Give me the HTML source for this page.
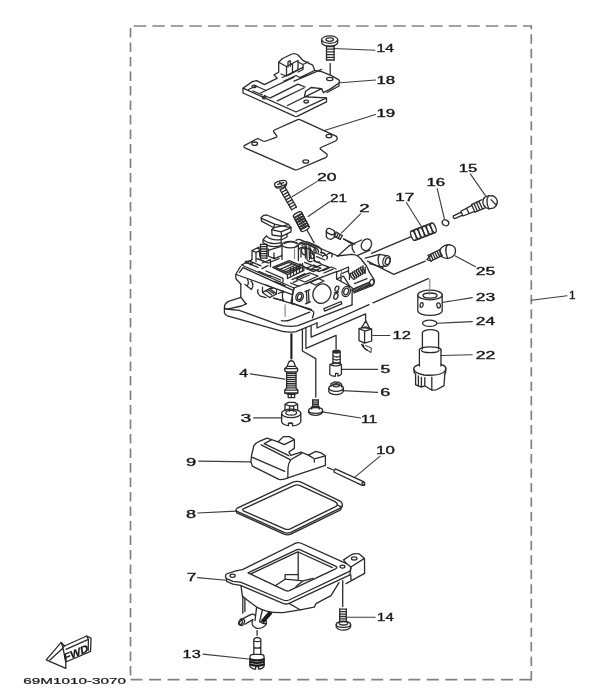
<!DOCTYPE html>
<html><head><meta charset="utf-8"><title>Carburetor</title>
<style>
html,body{margin:0;padding:0;background:#fff;}
body{width:610px;height:697px;overflow:hidden;font-family:"Liberation Sans",sans-serif;}
svg{display:block;}
svg line, svg path, svg ellipse, svg polyline, svg polygon, svg rect{fill:none;stroke:#2c2c2c;stroke-width:1.3;stroke-linecap:round;stroke-linejoin:round;}
svg .w{fill:#fff;}
svg .thk{stroke-width:2.1;stroke:#1c1c1c;}
svg .thn{stroke-width:1;}
svg .lt{stroke:#808080;stroke-width:1.1;}
svg .d{stroke:#828282;stroke-width:1.7;stroke-linecap:butt;}
svg .f{fill:#333;}
svg .ld{stroke:#3c3c3c;stroke-width:1.1;}
svg text{font-family:"Liberation Sans",sans-serif;fill:#161616;stroke:#181818;stroke-width:0.34;}
</style></head><body>
<svg width="610" height="697" viewBox="0 0 610 697">
<defs><filter id="b" x="-2%" y="-2%" width="104%" height="104%"><feGaussianBlur stdDeviation="0.5"/></filter></defs>
<rect x="0" y="0" width="610" height="697" style="fill:#fff;stroke:none"/>
<g filter="url(#b)">
<line x1="133.8" y1="26" x2="531.3" y2="26" class="d" stroke-dasharray="12.4 6.13"/>
<line x1="130.5" y1="28" x2="130.5" y2="676" class="d" stroke-dasharray="9.4 5.1"/>
<line x1="531.3" y1="25.3" x2="531.3" y2="680.4" class="d" stroke-dasharray="9.4 5.07" stroke-dashoffset="5.4"/>
<line x1="130.5" y1="679.7" x2="531.3" y2="679.7" class="d" stroke-dasharray="12 6.52"/>
<text transform="translate(376.57,52.1) scale(1.471,1)" font-size="10.6">14</text>
<text transform="translate(376.47,83.5) scale(1.587,1)" font-size="10.6">18</text>
<text transform="translate(376.47,117.3) scale(1.593,1)" font-size="10.6">19</text>
<text transform="translate(316.97,181.0) scale(1.660,1)" font-size="10.6">20</text>
<text transform="translate(329.99,201.7) scale(1.434,1)" font-size="10.6">21</text>
<text transform="translate(359.32,211.8) scale(1.759,1)" font-size="10.6">2</text>
<text transform="translate(395.25,200.6) scale(1.617,1)" font-size="10.6">17</text>
<text transform="translate(426.46,185.5) scale(1.598,1)" font-size="10.6">16</text>
<text transform="translate(458.79,171.9) scale(1.566,1)" font-size="10.6">15</text>
<text transform="translate(475.77,274.9) scale(1.656,1)" font-size="10.6">25</text>
<text transform="translate(475.77,301.2) scale(1.659,1)" font-size="10.6">23</text>
<text transform="translate(475.78,325.2) scale(1.635,1)" font-size="10.6">24</text>
<text transform="translate(475.77,359.2) scale(1.669,1)" font-size="10.6">22</text>
<text transform="translate(569.05,298.5) scale(1.116,1)" font-size="10.6">1</text>
<text transform="translate(392.49,339.0) scale(1.560,1)" font-size="10.6">12</text>
<text transform="translate(380.55,372.6) scale(1.652,1)" font-size="10.6">5</text>
<text transform="translate(380.33,396.2) scale(1.699,1)" font-size="10.6">6</text>
<text transform="translate(360.96,422.8) scale(1.478,1)" font-size="10.6">11</text>
<text transform="translate(239.18,377.4) scale(1.497,1)" font-size="10.6">4</text>
<text transform="translate(240.41,422.3) scale(1.831,1)" font-size="10.6">3</text>
<text transform="translate(376.07,454.4) scale(1.590,1)" font-size="10.6">10</text>
<text transform="translate(185.99,466.1) scale(1.736,1)" font-size="10.6">9</text>
<text transform="translate(186.07,517.7) scale(1.706,1)" font-size="10.6">8</text>
<text transform="translate(186.68,581.3) scale(1.617,1)" font-size="10.6">7</text>
<text transform="translate(377.12,620.6) scale(1.405,1)" font-size="10.6">14</text>
<text transform="translate(182.61,658.4) scale(1.541,1)" font-size="10.6">13</text>
<text transform="translate(23.3,683.8) scale(1.575,1)" font-size="9.7" style="stroke-width:0.22">69M1010-3070</text>
<line x1="333.5" y1="48.5" x2="375" y2="50.3" class="ld"/>
<line x1="340.5" y1="82.8" x2="375.5" y2="80" class="ld"/>
<line x1="324.5" y1="130.6" x2="375.5" y2="114.4" class="ld"/>
<line x1="316.9" y1="181.6" x2="292.4" y2="196.5" class="ld"/>
<line x1="329.5" y1="201.7" x2="308.1" y2="216.5" class="ld"/>
<line x1="360.5" y1="213.8" x2="341.6" y2="232.9" class="ld"/>
<line x1="406.4" y1="202.5" x2="421.5" y2="226.7" class="ld"/>
<line x1="437.2" y1="188.6" x2="444.3" y2="218.5" class="ld"/>
<line x1="470.3" y1="173.9" x2="485.4" y2="195.6" class="ld"/>
<line x1="455.4" y1="255.9" x2="475.5" y2="266.8" class="ld"/>
<line x1="440" y1="302.8" x2="472.3" y2="297.6" class="ld"/>
<line x1="437" y1="323.3" x2="472.3" y2="321.6" class="ld"/>
<line x1="441" y1="355.5" x2="472.3" y2="354.7" class="ld"/>
<line x1="531.3" y1="300.3" x2="567" y2="295.7" class="ld"/>
<line x1="372.8" y1="335.5" x2="389.9" y2="335.5" class="ld"/>
<line x1="341.4" y1="369.4" x2="377.6" y2="369.4" class="ld"/>
<line x1="342.5" y1="390.6" x2="377.6" y2="392.4" class="ld"/>
<line x1="322.2" y1="411.9" x2="360.7" y2="418" class="ld"/>
<line x1="250.3" y1="373.9" x2="284.9" y2="379.1" class="ld"/>
<line x1="253.6" y1="417.9" x2="282" y2="417.9" class="ld"/>
<line x1="380.1" y1="456.2" x2="355.2" y2="476.9" class="ld"/>
<line x1="198.7" y1="461.1" x2="250.8" y2="461.9" class="ld"/>
<line x1="197.7" y1="513" x2="236.1" y2="511.1" class="ld"/>
<line x1="197.5" y1="577.6" x2="226.1" y2="580.2" class="ld"/>
<line x1="347" y1="617.2" x2="375.2" y2="617.2" class="ld"/>
<line x1="202.9" y1="654.1" x2="248.6" y2="659" class="ld"/>
<path d="M321.7 39.8 L321.7 42.6 A8 3.6 0 0 0 337.7 42.6 L337.7 39.8" class="w"/>
<ellipse cx="329.7" cy="39.6" rx="8" ry="3.7" class="w"/>
<ellipse cx="329.7" cy="39.6" rx="3.8" ry="1.8"/>
<line x1="326.5" y1="46.5" x2="326.5" y2="60.0"/>
<line x1="334.1" y1="46.5" x2="334.1" y2="60.0"/>
<line x1="326.5" y1="46.5" x2="334.1" y2="46.5"/>
<line x1="326.5" y1="49.2" x2="334.1" y2="49.2"/>
<line x1="326.5" y1="51.9" x2="334.1" y2="51.9"/>
<line x1="326.5" y1="54.6" x2="334.1" y2="54.6"/>
<line x1="326.5" y1="57.3" x2="334.1" y2="57.3"/>
<line x1="326.5" y1="60.0" x2="334.1" y2="60.0"/>
<line x1="330.2" y1="63.6" x2="330.2" y2="78.6"/>
<path d="M243 88.2 L252.3 81.6 L256.5 80.6 L264.5 84.6 L277.3 78.2 L274 74.9 L278.7 72.3 L278.7 62.3 L282.5 58.5 L292 54 Q295 52.8 298 55 L302.9 60.3 L312.7 65.2 L314.7 70.3 L321.6 71.7 L331.4 75.6 L338.5 79.6 Q340.3 81 339 83 L331.4 88.4 L323.5 92.6 L321.6 88.6 L311 87.5 L305.5 91.5 L304.5 96.5 L309 97 L326.5 97.9 L326.5 101.8 L297.5 116.2 Q296 117 294.5 116.2 L243 93 Z" class="w"/>
<path d="M243 88.2 L296 112 L326.5 97.9"/>
<path d="M339 83 L339 86 L327 92.5"/>
<path d="M278.7 62.3 L286.5 66.5 L286.5 76 M286.5 66.5 L298 60.5 M292.5 63.5 L292.5 72.5 M298 60.5 L298 70 L290 74.5 L286.5 76 L281 74"/>
<path d="M288 62 L288 67 M290.3 61 L290.3 66.3 M288 62 Q289.2 60.6 290.3 61"/>
<path d="M298 62 L303 64.5 L303 69.5 L298 72 M303 64.5 L308 62"/>
<path d="M260.6 93 L294 77.2 M264.5 95.5 L270 98 M270.4 97.9 L298 84.1 L305 87 M277.3 100.8 L303.9 88"/>
<path d="M282.2 77.5 L302.9 67.4 M284 81 L296 75.5 L300 77.5 M294 81.2 L321.6 69.3 M300 77.5 L314.5 70.5"/>
<path d="M253 91 L262.5 95 M248.5 89.5 L256 86 L266 90.5"/>
<path d="M287.5 105.5 L321.6 88.6"/>
<ellipse cx="254.1" cy="86.4" rx="2.1" ry="1.2"/>
<ellipse cx="264.1" cy="97.7" rx="1.7" ry="1.2"/>
<ellipse cx="306.2" cy="101.6" rx="2.3" ry="1.4"/>
<ellipse cx="329.8" cy="79" rx="3.2" ry="1.6"/>
<path d="M244.3 145.6 Q243 147.2 245.5 148.2 L294.5 169.6 Q296 170.3 297.8 169.5 L325.5 157.6 Q328 156.3 326.8 154 L320.5 149.3 Q319.6 148.3 321 147.5 L335.5 141 Q338.3 139 336.5 136.3 L300.5 119.8 Q298.9 119 297.2 119.8 L274.5 130 Q273 130.8 273.8 132 L276.6 135.6 Q277.4 136.8 276 137.3 L266 141 Q264.5 141.6 263 141 L259 139 Q257.6 138.3 256 139.2 Z"/>
<ellipse cx="254.7" cy="143.7" rx="2.8" ry="1.7"/>
<ellipse cx="329" cy="136.1" rx="2.9" ry="1.7"/>
<ellipse cx="305.8" cy="161.5" rx="2.9" ry="1.7"/>
<path d="M275 184.2 Q274.2 186.8 277.2 188.2 L283.5 187.6 Q286.8 186 286.6 183.2" class="w"/>
<ellipse cx="280.6" cy="183.6" rx="6.2" ry="2.7" transform="rotate(-14 280.6 183.6)" class="w"/>
<path d="M277.5 184.4 L283.8 182.6 M279.6 182.3 L281.8 184.8"/>
<line x1="280.17" y1="190.0" x2="291.57" y2="209.8"/>
<line x1="285.03" y1="187.2" x2="296.43" y2="207.0"/>
<line x1="280.17" y1="190.0" x2="285.03" y2="187.2"/>
<line x1="281.6" y1="192.47" x2="286.45" y2="189.68"/>
<line x1="283.02" y1="194.95" x2="287.88" y2="192.15"/>
<line x1="284.45" y1="197.42" x2="289.3" y2="194.63"/>
<line x1="285.87" y1="199.9" x2="290.73" y2="197.1"/>
<line x1="287.3" y1="202.37" x2="292.15" y2="199.58"/>
<line x1="288.72" y1="204.85" x2="293.58" y2="202.05"/>
<line x1="290.15" y1="207.32" x2="295.0" y2="204.53"/>
<line x1="291.57" y1="209.8" x2="296.43" y2="207.0"/>
<ellipse cx="297.6" cy="214.6" rx="1.9" ry="4.7" transform="rotate(62.1 297.6 214.6)"/>
<ellipse cx="298.83" cy="216.93" rx="1.9" ry="4.7" transform="rotate(62.1 298.83 216.93)"/>
<ellipse cx="300.07" cy="219.27" rx="1.9" ry="4.7" transform="rotate(62.1 300.07 219.27)"/>
<ellipse cx="301.3" cy="221.6" rx="1.9" ry="4.7" transform="rotate(62.1 301.3 221.6)"/>
<ellipse cx="302.53" cy="223.93" rx="1.9" ry="4.7" transform="rotate(62.1 302.53 223.93)"/>
<ellipse cx="303.77" cy="226.27" rx="1.9" ry="4.7" transform="rotate(62.1 303.77 226.27)"/>
<ellipse cx="305.0" cy="228.6" rx="1.9" ry="4.7" transform="rotate(62.1 305.0 228.6)"/>
<line x1="293.6" y1="216.6" x2="301.0" y2="230.6"/>
<line x1="301.6" y1="212.6" x2="309.0" y2="226.6"/>
<line x1="307.1" y1="230.2" x2="314" y2="242.7"/>
<path d="M326.3 231.2 L326.3 236.8 Q328.5 239.8 331.2 239.2 L334.8 237.2 L334.8 231.2" class="w"/>
<ellipse cx="330.5" cy="231.6" rx="4.3" ry="2.6" transform="rotate(25 330.5 231.6)" class="w"/>
<line x1="334.26" y1="236.14" x2="340.26" y2="239.34"/>
<line x1="336.34" y1="232.26" x2="342.34" y2="235.46"/>
<line x1="334.26" y1="236.14" x2="336.34" y2="232.26"/>
<line x1="336.26" y1="237.21" x2="338.34" y2="233.33"/>
<line x1="338.26" y1="238.27" x2="340.34" y2="234.39"/>
<line x1="340.26" y1="239.34" x2="342.34" y2="235.46"/>
<line x1="343.5" y1="238.8" x2="351.4" y2="243.7"/>
<ellipse cx="413.4" cy="235.6" rx="2.2" ry="5.1" transform="rotate(-21.3 413.4 235.6)"/>
<ellipse cx="417.4" cy="234.04" rx="2.2" ry="5.1" transform="rotate(-21.3 417.4 234.04)"/>
<ellipse cx="421.4" cy="232.48" rx="2.2" ry="5.1" transform="rotate(-21.3 421.4 232.48)"/>
<ellipse cx="425.4" cy="230.92" rx="2.2" ry="5.1" transform="rotate(-21.3 425.4 230.92)"/>
<ellipse cx="429.4" cy="229.36" rx="2.2" ry="5.1" transform="rotate(-21.3 429.4 229.36)"/>
<ellipse cx="433.4" cy="227.8" rx="2.2" ry="5.1" transform="rotate(-21.3 433.4 227.8)"/>
<line x1="411.5" y1="230.8" x2="431.5" y2="223"/>
<line x1="415.3" y1="240.4" x2="435.3" y2="232.6"/>
<line x1="410.6" y1="236.8" x2="371.5" y2="253.3"/>
<ellipse cx="445.5" cy="222.8" rx="3.4" ry="2.8" transform="rotate(30 445.5 222.8)"/>
<path d="M453.4 215.8 L461.3 212.2 L460.9 211.3 L471.9 205.4 L471.5 204.6 L481.5 199.8 M454.7 218.7 L462.6 215.1 L463.0 216.0 L474.7 211.4 L475.0 212.2 L485.1 207.8 M453.4 215.8 Q452.6 217.9 454.7 218.7 M460.9 211.3 L463.0 216.0 M471.5 204.6 L475.0 212.2 M474.0 203.4 L477.5 211.2 M476.4 202.3 L480.0 210.1 M478.8 201.1 L482.5 209.0 M466.6 208.2 L469.1 213.6"/>
<path d="M483.2 199.2 Q484.6 196.4 488.6 195.8 L492.6 195.6 Q496.6 197.2 497.4 201.4 Q497.2 205.6 494 207.8 L489 208.8 Q485.6 208.4 484 205.6" class="w"/>
<path d="M488.6 195.8 Q486.4 198.6 487 202.6 Q487.6 206.6 489 208.8 M483.2 199.2 Q482.2 202.6 484 205.6 M491 199.6 L495.6 204.4"/>
<path d="M440.2 249.4 Q442.5 245.6 447.4 244.8 Q452.4 244.4 454.8 247.6 Q456.2 251 454.6 254.6 Q452 258 447.6 258.4 Q444 258.4 441.6 256.4" class="w"/>
<path d="M447.4 244.8 Q445 248 446 252.4 Q446.8 256 447.6 258.4 M440.2 249.4 Q439.4 253 441.6 256.4"/>
<line x1="439.23" y1="250.02" x2="428.23" y2="255.42"/>
<line x1="441.97" y1="255.58" x2="430.97" y2="260.98"/>
<line x1="439.23" y1="250.02" x2="441.97" y2="255.58"/>
<line x1="437.03" y1="251.1" x2="439.77" y2="256.66"/>
<line x1="434.83" y1="252.18" x2="437.57" y2="257.74"/>
<line x1="432.63" y1="253.26" x2="435.37" y2="258.82"/>
<line x1="430.43" y1="254.34" x2="433.17" y2="259.9"/>
<line x1="428.23" y1="255.42" x2="430.97" y2="260.98"/>
<path d="M431 255.2 L426.8 259.6 L431.6 261"/>
<path d="M425.2 261.1 L393.8 274.3 L367.5 261.1"/>
<path d="M417.8 295 L417.8 310.8 A12.2 4.6 0 0 0 442.2 310.8 L442.2 295" class="w"/>
<ellipse cx="430" cy="295" rx="12.2" ry="4.8" class="w"/>
<ellipse cx="430" cy="295.6" rx="7" ry="2.6"/>
<ellipse cx="421.6" cy="305" rx="1.5" ry="2.4" transform="rotate(10 421.6 305)"/>
<ellipse cx="438.6" cy="305.4" rx="1.8" ry="2.6" transform="rotate(-8 438.6 305.4)"/>
<line x1="429.8" y1="279" x2="429.8" y2="294.4" class="lt"/>
<ellipse cx="429.7" cy="323.3" rx="7.2" ry="3.1"/>
<path d="M422.4 333 L422.4 349 M438.6 333 L438.6 349"/>
<path d="M422.4 333 A8.1 3.4 0 0 1 438.6 333"/>
<path d="M419.4 350 L419.4 366 M441 350 L441 366"/>
<path d="M419.4 350 A10.8 3.2 0 0 1 441 350 M421.5 350.5 A8.8 2.4 0 0 0 439 350.5"/>
<path d="M419.4 364.5 Q414 366 413.8 368.8 Q414 373.2 424 375 Q436 376 442.6 373 Q446.2 371 445.8 368 Q445.2 365.6 441 364.5"/>
<path d="M413.8 368.8 L414.2 372.5 L415.6 374.4 M445.8 368 L445.6 372.6 L444.8 374"/>
<path d="M415.6 374.4 L415.6 384.8 L421.4 387.2 L421.4 377.4 M421.4 387.2 L424.8 385.8 L424.8 377.6 M424.8 385.8 L431.8 390.2 L436.5 389.8 L444 385.6 L444.8 374 M431.8 390.2 L431.8 377.2 M418.4 376 L418.4 386"/>
<path d="M246 304 L241 297.3 L228.5 301.4 Q224.4 303.8 224.4 307 L224.4 312.6 Q224.8 314.8 227.5 315.8 L277 329.8 Q287 333.4 296 331.6 L317 323"/>
<path d="M224.8 308 Q226.5 309.8 229.5 308.6 L241.5 306 L246.5 303.6 M239.3 310.4 L276.5 323.8 Q287.5 327.8 298 325.6 L352 304.8"/>
<path d="M226 309 L239.3 310.4"/>
<path d="M281.5 320.6 Q286 321.6 290.5 319.8 L309.6 312.2 M311.4 309.4 L273.8 298.2"/>
<line x1="285.1" y1="304.8" x2="285.1" y2="316.4" class="lt"/>
<path d="M240.8 284 L240.8 297.3"/>
<path d="M240.8 284 L236 279 L235.7 274.5 L240.5 266.5"/>
<path d="M241.5 265 L252 259.6 M241.5 265 L294 288 L337 271.4 M236.2 274.5 L292.4 294.6 L294 288 M239.5 272.3 L243 267.6 L293.2 290.4"/>
<path d="M292.4 294.6 L292.4 304.2"/>
<path d="M252 259.6 L252 250.5 L259 247.2 L259.8 256.5 M252 250.5 L256 252.4 L256 261.5 M256 252.4 L259.8 250.6"/>
<path d="M300.8 239.8 L337.8 256 M296 240.4 Q298.5 238.6 300.8 239.8"/>
<path d="M282 245.6 L282 259.4 M298.4 245.6 L298.4 260.4"/>
<ellipse cx="290.2" cy="244.6" rx="8.2" ry="3.3"/>
<path d="M284 243.6 Q290 240.4 296.6 243.4"/>
<line x1="294.5" y1="249" x2="294.5" y2="258.4" class="lt"/>
<line x1="260.5" y1="244.4" x2="260.5" y2="258.2"/>
<line x1="266.9" y1="244.4" x2="266.9" y2="258.2"/>
<line x1="260.5" y1="244.4" x2="266.9" y2="244.4"/>
<line x1="260.5" y1="246.7" x2="266.9" y2="246.7"/>
<line x1="260.5" y1="249.0" x2="266.9" y2="249.0"/>
<line x1="260.5" y1="251.3" x2="266.9" y2="251.3"/>
<line x1="260.5" y1="253.6" x2="266.9" y2="253.6"/>
<line x1="260.5" y1="255.9" x2="266.9" y2="255.9"/>
<line x1="260.5" y1="258.2" x2="266.9" y2="258.2"/>
<path d="M266.4 236 L263 239.6 L263 242.4 Q270 248.6 281.2 245.6 L281.2 236.3 M263 239.6 Q270 245.6 281.2 242.6 M266.4 236 Q272 241.4 281.2 239.4"/>
<path d="M281.2 240 L287 237 L287 233.6"/>
<path d="M261.1 217.4 L263.5 215.4 L266.8 215 L288.5 224.4 L291 227.3 L291 231.8 L281.6 236.3 L272.1 235 L271.7 229.7 L273.8 227.7 L261.5 221.1 Z" class="w"/>
<path d="M261.5 218.4 L274.6 224.2 L283 226.2 M274.6 224.2 L273.8 227.7 M283 226.2 L288.5 224.4 M283 226.2 L291 227.7"/>
<path d="M271.7 229.7 L281.1 231.8 L291 227.7 M281.1 231.8 L281.6 236.3 M273.8 227.7 L282.4 225.8"/>
<path d="M296 246.5 Q300 242.5 305 243.5 L313 247 Q317 249.5 316 253 M298.5 249.5 Q301.5 246 305.5 247.4 L311.5 250.4 Q313.6 252.4 312.6 254.6 M305 243.5 L305.5 258 M309 246 L309.5 259.5 M301 250 L301 257"/>
<ellipse cx="303.8" cy="251.4" rx="2.2" ry="3.4" transform="rotate(-20 303.8 251.4)"/>
<ellipse cx="311.8" cy="255.6" rx="2" ry="3" transform="rotate(-20 311.8 255.6)"/>
<path d="M315 252.5 L322 255.5 M316.5 256.6 L325 260 M313.5 260.6 L321 263.6 M320.5 252.5 Q324.5 252.5 326.5 255.6"/>
<path d="M272.7 267.3 L289.1 260.6 L303.9 266.5 L287.5 274.7 Z M275.8 267.5 L289 262.4 L300.4 266.8 L287.5 272.6 Z"/>
<path d="M279.5 269.6 L292.5 263.8 M282.5 271 L295.5 265 M285 272.2 L298 266.2"/>
<path d="M290.5 268 L290.5 276.5 M293.5 267 L293.5 275 M296.5 265.6 L296.5 273.6 M299.5 264.5 L299.5 272.4 M302.5 263.5 L302.5 271"/>
<path d="M287.5 274.7 L287.5 278.5 L303.9 270.4 L303.9 266.5"/>
<path d="M246 262.5 L258 267.4 M249 260.8 L261 265.8 M262 263 L270.5 259.6 L270.5 266.8 M258.5 259 L266 262"/>
<path d="M266 271 L283 278.4 L283 282 M270 275.5 L280.5 280 M262 268.6 L268 265.6"/>
<path d="M296 278.6 L309.5 272.8 L318 276 L305 282 Z M300 279 L309.5 275 M312 268.5 L322 264.6 L329 267.2 L319 271.6 Z"/>
<path d="M290.5 283 L299 286.4 M306 284 L322 277 M324 273 L333 269.2"/>
<ellipse cx="246.8" cy="262.2" rx="1.6" ry="1"/>
<ellipse cx="251" cy="263.8" rx="1.4" ry="0.9"/>
<path d="M247.5 279.5 Q249.5 283 247 286 M251 281 Q254.5 285 251.5 289.4 M245 284.5 L251.5 289.4"/>
<path d="M262.5 287.2 L262.5 292.4 L269.5 297.6 L276.5 294 L276.5 289.6 M262.5 292.4 L269.8 288.6 L276.5 294 M265.5 284.8 L273.5 288 L269.8 288.6 M266 290.4 L271.6 294.8 M268 289.4 L273.6 293.6"/>
<path d="M258 289.6 Q256.5 293.5 260.5 296.2 L266 297.6 M278.5 293.5 L283.5 291.2 Q281.2 296 283.5 300.6 M273.6 298.2 L283.5 300.6"/>
<path d="M294 288 L291 302.6 M336.6 271.6 L336.6 279 L349.9 286.3 L352.2 287.8 L352 304.8"/>
<path d="M291 302.6 L312.6 310.8 Q314.4 312 313.6 314 L312.4 318"/>
<path d="M336.6 279 L343.5 276.2 L349.9 286.3"/>
<ellipse cx="299.6" cy="296.8" rx="3.6" ry="4.6" transform="rotate(24 299.6 296.8)"/>
<ellipse cx="299.6" cy="296.8" rx="2" ry="3" transform="rotate(24 299.6 296.8)"/>
<path d="M306.4 291 L307 303.2 M308.4 290.2 L309 302.4 M305 291.6 L309.8 289.6 M305.6 303.8 L310.4 301.8"/>
<ellipse cx="321.9" cy="293.7" rx="8.8" ry="9.9" transform="rotate(26 321.9 293.7)"/>
<ellipse cx="336.9" cy="288.7" rx="1.8" ry="2.7" transform="rotate(20 336.9 288.7)"/>
<ellipse cx="335.9" cy="296.4" rx="2" ry="3" transform="rotate(20 335.9 296.4)"/>
<path d="M334.4 292.8 L338.6 292"/>
<ellipse cx="346.2" cy="291.5" rx="4" ry="5.3" transform="rotate(20 346.2 291.5)"/>
<ellipse cx="346.2" cy="291.5" rx="2.3" ry="3.4" transform="rotate(20 346.2 291.5)"/>
<path d="M323.9 308.7 L341.1 301.5 L341.8 303.9 L324.6 311.1 Z"/>
<path d="M337 256 L351.5 254.4 Q357 254.4 361 259 L366.5 266 L369.6 272.6 L374 279.4 Q375.5 283 371.8 285.6 L354 293"/>
<path d="M349 245.8 L361.5 240 M357.6 255.4 L370 250.2"/>
<ellipse cx="366.4" cy="244.8" rx="4.9" ry="6.1" transform="rotate(28 366.4 244.8)"/>
<path d="M352.5 244.2 Q351 248.5 354.6 252.6"/>
<path d="M337.8 256 L349 246 M343.8 239.1 L354.8 244.2"/>
<path d="M365.2 258.2 L379.5 254.4 M369.6 263.6 L383 267.4"/>
<ellipse cx="386.6" cy="261" rx="3.6" ry="5.4" transform="rotate(18 386.6 261)"/>
<ellipse cx="387.6" cy="261.2" rx="2.2" ry="3.6" transform="rotate(18 387.6 261.2)"/>
<path d="M379.5 254.4 Q376.5 259.6 379.8 266.6 M379.5 254.4 L386.5 255.6 M379.8 266.6 L385.2 266.2"/>
<ellipse cx="352.4" cy="276.2" rx="1.3" ry="3.5" transform="rotate(-31.3 352.4 276.2)"/>
<ellipse cx="354.44" cy="274.96" rx="1.3" ry="3.5" transform="rotate(-31.3 354.44 274.96)"/>
<ellipse cx="356.48" cy="273.72" rx="1.3" ry="3.5" transform="rotate(-31.3 356.48 273.72)"/>
<ellipse cx="358.52" cy="272.48" rx="1.3" ry="3.5" transform="rotate(-31.3 358.52 272.48)"/>
<ellipse cx="360.56" cy="271.24" rx="1.3" ry="3.5" transform="rotate(-31.3 360.56 271.24)"/>
<ellipse cx="362.6" cy="270.0" rx="1.3" ry="3.5" transform="rotate(-31.3 362.6 270.0)"/>
<path d="M349.5 273.6 L349.5 279.6 M365.2 267.2 L365.2 273.2 M363 265.6 L363 271"/>
<line x1="353.75" y1="291.89" x2="370.15" y2="284.89"/>
<line x1="352.65" y1="289.31" x2="369.05" y2="282.31"/>
<line x1="354.49" y1="291.57" x2="351.91" y2="289.63"/>
<line x1="356.31" y1="290.8" x2="353.74" y2="288.85"/>
<line x1="358.13" y1="290.02" x2="355.56" y2="288.07"/>
<line x1="359.95" y1="289.24" x2="357.38" y2="287.29"/>
<line x1="361.77" y1="288.46" x2="359.2" y2="286.52"/>
<line x1="363.6" y1="287.68" x2="361.03" y2="285.74"/>
<line x1="365.42" y1="286.91" x2="362.85" y2="284.96"/>
<line x1="367.24" y1="286.13" x2="364.67" y2="284.18"/>
<line x1="369.06" y1="285.35" x2="366.49" y2="283.4"/>
<line x1="370.89" y1="284.57" x2="368.31" y2="282.63"/>
<path d="M354.5 283.6 L367 278.6"/>
<ellipse cx="371.8" cy="282.6" rx="2.2" ry="3.2" transform="rotate(15 371.8 282.6)"/>
<path d="M337.5 271.6 L348.5 267 L348.5 273 M341 281 L341 274 L348.5 270.6"/>
<line x1="341.5" y1="270" x2="341.5" y2="276.5" class="lt"/>
<path d="M267.5 250.6 L281 246.4 M268.3 249 L268.3 256 L274 258.6 L282 255.6 M274 258.6 L274 253"/>
<path d="M299.5 243.4 Q303.5 240.6 308 242 L318 246.4 Q322.4 249 321.4 252.6 M302 245.4 Q305 243 308.6 244.6 L316.6 248.4 Q319 250.2 318.4 252.4"/>
<path d="M306.5 246 L307 259.6 Q309 262.6 312 261.4 M310.5 247.8 L311 258 M314 249.4 L314.4 260.4 Q316.6 263 319.6 261.8"/>
<path d="M322.6 256.6 Q324 254.4 326.4 255.4 Q328.4 257 326.8 259 M327.4 254.4 Q329 252.4 331.4 253.4 Q333 255 331.6 256.8"/>
<path d="M304.6 262.4 L317.6 267.6 M300 264 Q308 270.6 318.6 270"/>
<path d="M257 258.6 L268.2 263 L279 258.6"/>
<path d="M292 279.6 L305 273.6 M293.4 282.4 L297.4 280.6 M310 282.4 L318.6 278.6 L324 281 L315.4 285 Z"/>
<path d="M323 270.6 L331.4 267 L336 269 M306 268.4 L313.6 265 L321 268 L313.4 271.6 Z"/>
<path d="M258.6 271.4 L270.6 276.4 M274.6 281.4 L285 285.6"/>
<path d="M317 322.7 L317 328 L369 304.6 M373 302.9 L428.3 278.6"/>
<path d="M311.1 326 L311.1 337.1 L365.6 313.9 L365.6 320.5"/>
<path d="M305.9 327.3 L305.9 348.3 L336.1 335.4 L336.1 348.9"/>
<path d="M302.4 329.3 L302.4 351 L315.8 358.6 L315.8 397"/>
<line x1="291.4" y1="334.2" x2="291.4" y2="358.4" class="thk"/>
<path d="M365.8 320.8 L361.6 327.6 L369.6 328.4 Z"/>
<path d="M359 328.6 L359 340.6 L364.6 343.2 L371.6 341 L371.6 329 M359 328.6 L364.6 331 L371.6 329 M359 328.6 L365.6 326.8 L371.6 329 M364.6 331 L364.6 343.2"/>
<path d="M361.6 344.4 L364.4 348.4 L371 352.6 L371.2 347.8 L365.6 345.6 M362.8 344 L364 346.6" class="thn"/>
<path d="M361.8 344.6 L364.4 348.4 L367.5 350.4"/>
<path d="M333 352 L333 364 M340.2 352 L340.2 364"/>
<ellipse cx="336.6" cy="351.6" rx="3.6" ry="1.5" class="f"/>
<path d="M333 356 Q336.6 358 340.2 356 M333 359 Q336.6 361 340.2 359 M333 362 Q336.6 364 340.2 362"/>
<path d="M329.8 364.5 L329.8 374.4 Q331.5 376.6 335.5 376.2 L335.5 373.4 L338 373.4 L338 376 Q340.6 375.6 341.4 374 L341.4 364.5 Q336 367.4 329.8 364.5 Q335.6 361.8 341.4 364.5"/>
<path d="M328.8 388.5 L328.8 391.6 Q330.5 394.6 336 394.6 Q341.8 394.4 343.4 391.2 L343.4 388.2"/>
<ellipse cx="336.1" cy="388" rx="7.3" ry="3.3"/>
<path d="M331 386.4 L331 383.6 L334.5 382 L339.5 382.4 L341.6 384.2 L341.6 387"/>
<ellipse cx="336.3" cy="385.2" rx="3.2" ry="1.6"/>
<path d="M288.8 362 Q291.3 359.6 293.8 362 L295.4 366.4 L297.6 368.6 L297.6 371 L296 372 L296 388 L297.8 390.2 L297.8 393 L294.6 394.4 L294.6 397.6 L288.2 397.6 L288.2 394.4 L284.8 393 L284.8 390.2 L286.6 388 L286.6 372 L284.8 371 L284.8 368.6 L287.2 366.4 Z"/>
<line x1="286.8" y1="373.5" x2="295.8" y2="373.5"/>
<line x1="286.8" y1="375.55" x2="295.8" y2="375.55"/>
<line x1="286.8" y1="377.6" x2="295.8" y2="377.6"/>
<line x1="286.8" y1="379.65" x2="295.8" y2="379.65"/>
<line x1="286.8" y1="381.7" x2="295.8" y2="381.7"/>
<line x1="286.8" y1="383.75" x2="295.8" y2="383.75"/>
<line x1="286.8" y1="385.8" x2="295.8" y2="385.8"/>
<line x1="286.8" y1="387.85" x2="295.8" y2="387.85"/>
<path d="M287.2 366.4 L295.4 366.4 M284.8 368.6 L297.6 368.6 M286.6 372 L296 372 M284.8 390.2 L297.8 390.2 M284.8 393 L297.8 393 M288.2 394.4 L294.6 394.4 M291.3 394.6 L291.3 397.4"/>
<path d="M285 404.4 L285 410.4 M297.6 404.4 L297.6 410.4 M285 404.4 L288.4 402.4 L294.6 402.4 L297.6 404.4 M289.6 406 L289.6 411 M293.6 406 L293.6 411 M285 404.4 L289.6 406 L293.6 406 L297.6 404.4"/>
<path d="M281.6 413.6 L281.6 422 Q283.5 425.4 288.5 425.6 L288.5 423.4 L292.5 423.4 L292.5 425.8 Q298.5 425.6 300.8 422 L300.8 413.6"/>
<ellipse cx="291.2" cy="413.4" rx="9.6" ry="4.2"/>
<ellipse cx="291.2" cy="412.8" rx="5.4" ry="2.4"/>
<path d="M288.5 423.4 Q290.5 422.4 292.5 423.4"/>
<line x1="312.7" y1="400.0" x2="312.7" y2="406.4"/>
<line x1="318.3" y1="400.0" x2="318.3" y2="406.4"/>
<line x1="312.7" y1="400.0" x2="318.3" y2="400.0"/>
<line x1="312.7" y1="402.13" x2="318.3" y2="402.13"/>
<line x1="312.7" y1="404.27" x2="318.3" y2="404.27"/>
<line x1="312.7" y1="406.4" x2="318.3" y2="406.4"/>
<path d="M308.6 410.6 L308.6 412.4 Q310.5 415.4 315.6 415.4 Q320.8 415.2 322.6 412.2 L322.6 410.6"/>
<ellipse cx="315.6" cy="410.4" rx="7" ry="2.9"/>
<path d="M311.6 409 L311.6 406.8 Q315.6 405.4 319.4 406.8 L319.4 409"/>
<path d="M253.9 445.5 Q256 442.6 259.8 441.1 L267.1 438.1 L278.2 441.8 L283.4 436.6 L289.3 436.6 L294.4 439.6 L294.4 448.4 L288.8 452 L290.8 455.4 L301.1 452.2 L308.4 455.1 L315.8 451.4 L321 452.9 L325.4 455.8 L325.4 465.4 L287.8 477.9 Q283.5 480 278.9 479.4 L252.4 466.1 L250.9 461.7 L251.6 455.1 Z" class="w"/>
<path d="M261.2 444.8 L290.7 459.8 M264.2 443.6 L288.8 455.6 M264.2 443.6 L271.5 439.8 M278.2 441.8 L284.2 444.6 L294.4 439.6"/>
<path d="M290.7 459.8 Q288.2 463 288 468 L287.8 477.9 M290.7 459.8 L301.6 453.4 M308.4 455.1 L314.3 458.8 L325.4 455.8 M314.3 458.8 L314.3 462"/>
<path d="M252.4 457.3 L284.8 471.3"/>
<path d="M327.6 467.6 L333.6 470"/>
<path d="M335.4 468.8 L363.4 481.6 Q365.2 482.8 364.6 484.4 Q363.6 485.8 361.6 485.2 L333.8 472 Z"/>
<ellipse cx="363.4" cy="483.6" rx="1.2" ry="1.7" transform="rotate(-30 363.4 483.6)"/>
<path d="M237.2 508.2 Q235 509.8 237 511.4 L284 532.4 Q287.4 533.8 290.8 532.4 L340.2 508.2 Q342.6 506.8 342.4 504.2 Q342 502 339.6 500.8 L301 482.2 Q297 480.4 293 482.2 Z"/>
<path d="M243.4 508.8 Q241.6 509.8 243.4 510.8 L284.6 528.8 Q287.4 530 290.2 528.8 L335.6 506.6 Q337.6 505.4 337.2 503.8 Q336.8 502.6 335 501.6 L300.2 485.6 Q297 484.2 293.8 485.6 Z"/>
<path d="M236.2 510.8 L236.8 512.8 L284 534.2 Q287.4 535.6 290.8 534.2 L340.6 509.8 L342.4 505.6"/>
<path d="M337.6 505 L340.4 506.6"/>
<path d="M226.4 574 Q224.6 576 226.4 578.6 L233 581.4 L240.5 582.2 L283 600 Q286 601.2 289 600 L349 571.6 Q351.6 570 350.8 567 L346.5 563.6 L300.5 543 Q298 542 295.6 543.2 L243 569.4 L235 571.2 Z"/>
<path d="M248 572.8 L297 549.6 Q298.4 549 299.8 549.6 L336 566.4 Q337.6 567.4 336 568.6 L289.4 590.6 Q287.6 591.4 285.8 590.6 Z"/>
<path d="M251.4 573.6 L296.6 552.4 L298.2 552 L332.4 567.6"/>
<path d="M298.2 552 L298.2 579.2 M275.2 585.7 L285.1 579.2 L303.1 580.8 L296 586.4 M285.1 579.2 L285.1 574.6 L298.2 574.6 M303.1 580.8 L313 578.4"/>
<path d="M226.4 578.6 L226.6 581.4 L233 584.2 L240.5 585.4 L283 603.4 Q286 604.6 289 603.4 L350 574.8 L350.8 567"/>
<path d="M343.5 559.9 L351.4 554.7 Q355 553 359.3 553.9 L364.5 558.4 L364.6 573.4 L346 583.6 M346.5 563.6 L343.5 559.9 M350.8 567 L364.5 558.4 M350.8 574.6 L351 581"/>
<ellipse cx="354.2" cy="558.4" rx="2.7" ry="1.6"/>
<ellipse cx="342.5" cy="566.6" rx="2.5" ry="1.5"/>
<ellipse cx="232.6" cy="575.8" rx="2.6" ry="1.6"/>
<path d="M241 585.8 L242.5 596.6 L257.2 607.4 Q268 613.4 283 612.6 L300 609.8 L314.2 607.2 L316 603.6 L322 600.4 L331 595.6 L339 582.6"/>
<path d="M242.8 596 L242.8 613.2 M244.9 598 L244.9 611.6 M256.6 607.4 L255 620.6 M262.4 610 L259.6 621.6"/>
<path d="M289 603.4 L300 609.8"/>
<line x1="342.7" y1="580.6" x2="342.7" y2="606.6"/>
<path d="M250.6 614.6 L241.4 619.4 M252.8 619.6 L245 624.2"/>
<ellipse cx="241.6" cy="622.2" rx="2.7" ry="3.5" transform="rotate(28 241.6 622.2)"/>
<ellipse cx="240.9" cy="622.5" rx="1.4" ry="2.1" transform="rotate(28 240.9 622.5)"/>
<path d="M250.6 614.6 Q253 613.4 255.4 615.4 M252.8 619.6 Q250 625.6 256.5 628.4 Q263.4 629 266.4 624 L266 618.6 M259.6 621.6 L263 623.4 L266.4 624"/>
<path d="M271.2 613.2 L263.6 622 M269.4 612.2 L262 620.8" class="thk"/>
<line x1="257.1" y1="630.6" x2="257.1" y2="635.2"/>
<path d="M253.8 639.2 L253.8 654.6 M260.8 639.2 L260.8 654.6 M253.8 639.2 Q257.3 635.8 260.8 639.2 M253.8 647.4 Q257.3 649 260.8 647.4 M254.2 641 Q257.3 642.4 260.4 641"/>
<path d="M250 656.6 L250 666.4 Q252 669.2 255.6 669.2 L255.6 666.6 L258.6 666.6 L258.6 669.2 Q262.6 669 264 666.4 L264 656.6 Q264 654.4 260.8 654.4 L253.8 654.4 Q250 654.4 250 656.6"/>
<path d="M250 659.2 Q257 661.6 264 659.2 M250 661.8 Q257 664.2 264 661.8 M250 664.4 Q257 666.8 264 664.4" class="thk"/>
<line x1="339.7" y1="609.2" x2="339.7" y2="621.4"/>
<line x1="346.3" y1="609.2" x2="346.3" y2="621.4"/>
<line x1="339.7" y1="609.2" x2="346.3" y2="609.2"/>
<line x1="339.7" y1="611.64" x2="346.3" y2="611.64"/>
<line x1="339.7" y1="614.08" x2="346.3" y2="614.08"/>
<line x1="339.7" y1="616.52" x2="346.3" y2="616.52"/>
<line x1="339.7" y1="618.96" x2="346.3" y2="618.96"/>
<line x1="339.7" y1="621.4" x2="346.3" y2="621.4"/>
<path d="M336.2 624.6 L336.2 627 Q338 630.2 343.4 630.2 Q349 630 350.6 627 L350.6 624.6"/>
<ellipse cx="343.4" cy="624.4" rx="7.2" ry="2.9"/>
<ellipse cx="343.4" cy="623.2" rx="4.4" ry="1.8"/>
<path d="M46.2 659.8 L61.2 642.4 L64.4 646 L86.7 636 L91 638.1 L90.6 651.3 L65.8 662 L65.8 668.4 Z"/>
<path d="M61.2 642.4 L63 648 L64.4 646 M63 648 L50 660 M63 648 L65.8 662 M86.7 636 L88.4 639.4 L88.2 650.6 M88.4 639.4 L66 649.4"/>
<text transform="translate(64.6,661.4) rotate(-22.5) skewX(-14) scale(1.12,1)" font-size="10.2" font-weight="bold" style="fill:#1a1a1a;stroke:#1a1a1a;stroke-width:0.25">FWD</text>
</g>
</svg>
</body></html>
